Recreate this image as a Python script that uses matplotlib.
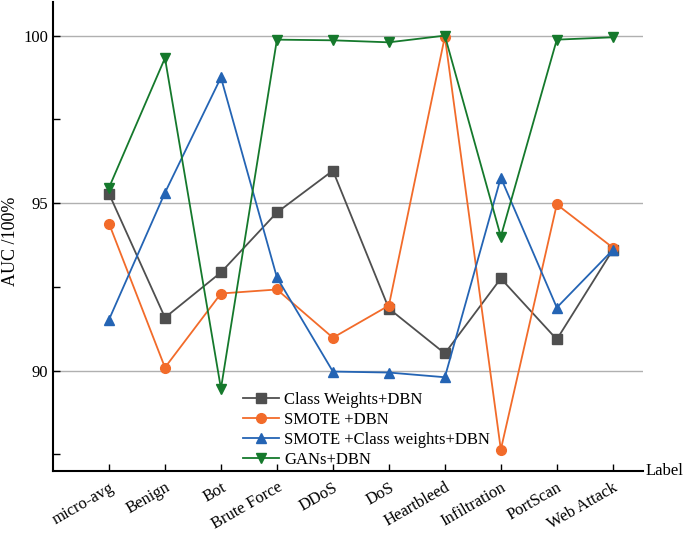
import matplotlib
matplotlib.use("Agg")
import matplotlib.pyplot as plt
import matplotlib.transforms as mtransforms
from matplotlib.ticker import MultipleLocator

labels = ['micro-avg', 'Benign', 'Bot', 'Brute Force', 'DDoS', 'DoS',
          'Heartbleed', 'Infiltration', 'PortScan', 'Web Attack']

class_weights = [95.28, 91.58, 92.93, 94.72, 95.97, 91.85, 90.51, 92.75, 90.93, 93.60]
smote = [94.39, 90.09, 92.30, 92.42, 90.98, 91.94, 99.97, 87.64, 94.96, 93.67]
smote_cw = [91.52, 95.31, 98.75, 92.78, 89.97, 89.94, 89.80, 95.76, 91.88, 93.60]
gans = [95.46, 99.33, 89.46, 99.88, 99.86, 99.80, 100.00, 94.00, 99.88, 99.95]

series = [
    ('Class Weights+DBN', class_weights, '#4f4f4f', 's'),
    ('SMOTE +DBN', smote, '#f26b2a', 'o'),
    ('SMOTE +Class weights+DBN', smote_cw, '#2464b4', '^'),
    ('GANs+DBN', gans, '#15792c', 'v'),
]

plt.rcParams['font.family'] = ['Liberation Serif', 'DejaVu Serif']

fig = plt.figure(figsize=(6.85, 5.33), dpi=100)
ax = fig.add_axes([0.0774, 0.1163, 0.8613, 0.8797])

x = list(range(len(labels)))
for name, vals, color, marker in series:
    ax.plot(x, vals, color=color, marker=marker, markersize=7,
            linewidth=1.3, label=name)

ax.set_xlim(-1, 9.54)
ax.set_ylim(87, 101)
ax.yaxis.set_major_locator(MultipleLocator(5))
ax.yaxis.set_minor_locator(MultipleLocator(2.5))
ax.grid(axis='y', which='major', color='#b0b0b0', linewidth=1)
ax.set_axisbelow(True)

ax.set_xticks(x)
ax.set_xticklabels(labels, rotation=30, ha='right', rotation_mode='anchor',
                   fontsize=12)
offset = mtransforms.ScaledTranslation(10 / 100, -4 / 100, fig.dpi_scale_trans)
for lab in ax.get_xticklabels():
    lab.set_transform(lab.get_transform() + offset)

ax.tick_params(axis='both', which='both', direction='in', labelsize=12,
               width=1, length=5)
ax.tick_params(axis='x', pad=6)

for side in ('top', 'right'):
    ax.spines[side].set_visible(False)
for side in ('left', 'bottom'):
    ax.spines[side].set_linewidth(1.5)

ax.set_ylabel('AUC /100%', fontsize=13)
ax.yaxis.set_label_coords(-0.057, 0.49)
ax.text(1.005, 0, 'Label', transform=ax.transAxes, fontsize=12,
        ha='left', va='center')

ax.legend(loc='lower left', bbox_to_anchor=(0.31, -0.008), frameon=False,
          fontsize=12, handlelength=2.2, handletextpad=0.3,
          labelspacing=0.25, borderaxespad=0)

fig.savefig('out.png', dpi=100)
